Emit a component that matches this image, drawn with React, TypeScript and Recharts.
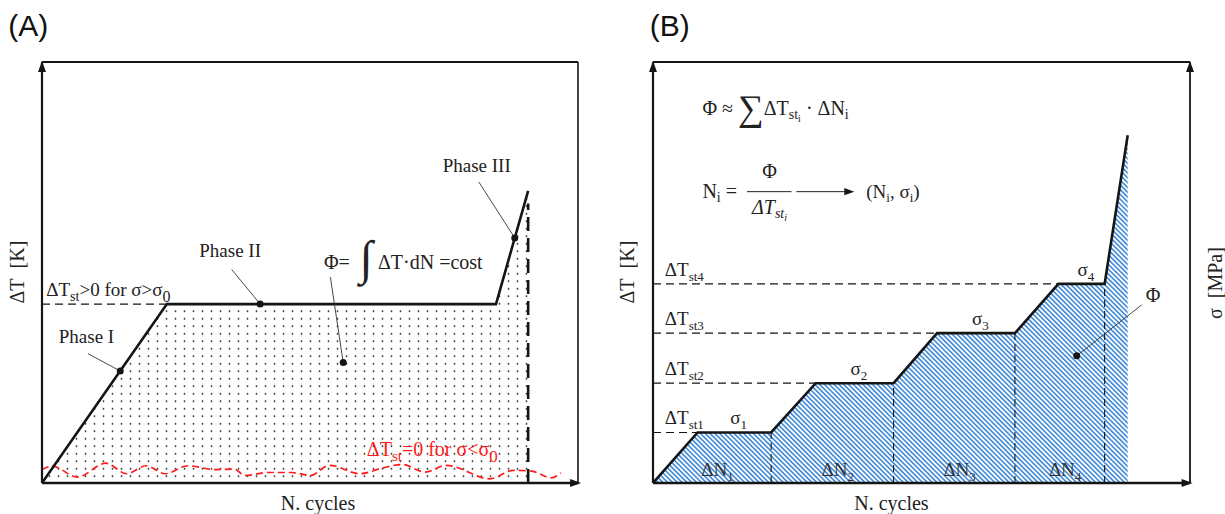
import React from 'react'
import { ComposedChart, Area, Line, XAxis, YAxis, ReferenceLine, ReferenceDot } from 'recharts'

const SERIF = '"Liberation Serif", "Times New Roman", serif'
const SANS = '"Liberation Sans", Arial, sans-serif'
const INK = '#151515'
const NB = '\u00A0'

// ---- Panel A : single test, Phase I / II / III ----
const curveA = [
  { n: 0, t: 0 },
  { n: 23.3, t: 42.5 },
  { n: 84.7, t: 42.5 },
  { n: 90.7, t: 69.4 },
]
const thresholdA = [
  { n: 0, t: 42.5 },
  { n: 23.3, t: 42.5 },
]
const failureA = [
  { n: 90.7, t: 0 },
  { n: 90.7, t: 66.4 },
]
// below the fatigue limit: temperature just wobbles around zero
const noiseA = [
  { n: 0, t: 3.2 }, { n: 1.9, t: 4.0 }, { n: 6.6, t: 1.4 }, { n: 11.9, t: 4.7 },
  { n: 15.8, t: 2.2 }, { n: 19.4, t: 4.1 }, { n: 23.0, t: 2.2 }, { n: 27.2, t: 4.1 },
  { n: 32.2, t: 3.2 }, { n: 35.8, t: 3.3 }, { n: 37.9, t: 1.8 }, { n: 42.2, t: 2.5 },
  { n: 46.5, t: 2.5 }, { n: 50.1, t: 1.8 }, { n: 53.6, t: 4.2 }, { n: 59.3, t: 2.2 },
  { n: 63.6, t: 3.6 }, { n: 67.2, t: 4.4 }, { n: 71.5, t: 2.6 }, { n: 75.4, t: 4.2 },
  { n: 83.6, t: 1.0 }, { n: 87.9, t: 3.0 }, { n: 91.4, t: 2.8 }, { n: 95.0, t: 1.2 },
  { n: 96.8, t: 2.4 },
]

// ---- Panel B : stepwise loading ----
const stepsB = [
  { n: 0, t: 0 },
  { n: 8.3, t: 12 },
  { n: 22, t: 12 },
  { n: 30.3, t: 23.7 },
  { n: 44.8, t: 23.7 },
  { n: 52.9, t: 35.6 },
  { n: 67.4, t: 35.6 },
  { n: 75.5, t: 47.3 },
  { n: 84.1, t: 47.3 },
  { n: 88.4, t: 82.6 },
]
const levelsB = [12, 23.7, 35.6, 47.3]
const plateauStart = [8.3, 30.3, 52.9, 75.5]
const plateauEnd = [22, 44.8, 67.4, 84.1]
const blockStart = [0, 22, 44.8, 67.4]
const stepNames = ['1', '2', '3', '4']

const Sub = ({ children, size = 13, shift = 5 }: { children: React.ReactNode; size?: number; shift?: number }) => (
  <tspan fontSize={size} dy={shift}>{children}</tspan>
)
const Back = ({ children, shift = -5, size = 19 }: { children: React.ReactNode; shift?: number; size?: number }) => (
  <tspan fontSize={size} dy={shift}>{children}</tspan>
)

const note = (key: string, x: number, y: number, content: React.ReactNode, extra: any = {}) => (
  <ReferenceDot
    key={key}
    x={x}
    y={y}
    r={0}
    ifOverflow="visible"
    shape={(p: any) => (
      <text x={p.cx} y={p.cy} dy={6} fontFamily={SERIF} fontSize={19} fill="#222" {...extra}>
        {content}
      </text>
    )}
  />
)

const vnote = (key: string, x: number, y: number, content: React.ReactNode) => (
  <ReferenceDot
    key={key}
    x={x}
    y={y}
    r={0}
    ifOverflow="visible"
    shape={(p: any) => (
      <text
        x={p.cx}
        y={p.cy}
        dy={6}
        fontFamily={SERIF}
        fontSize={20}
        fill="#222"
        textAnchor="middle"
        transform={`rotate(-90 ${p.cx} ${p.cy})`}
      >
        {content}
      </text>
    )}
  />
)

const arrow = (key: string, x: number, y: number, dir: 'up' | 'right', size = 10) => (
  <ReferenceDot
    key={key}
    x={x}
    y={y}
    r={0}
    ifOverflow="visible"
    shape={(p: any) => {
      const { cx, cy } = p
      const w = size * 0.4
      const d =
        dir === 'up'
          ? `M${cx},${cy - 1} L${cx - w},${cy + size} L${cx + w},${cy + size} Z`
          : `M${cx + 1},${cy} L${cx - size},${cy - w} L${cx - size},${cy + w} Z`
      return <path d={d} fill={INK} />
    }}
  />
)

const leader = (key: string, from: [number, number], to: [number, number]) => (
  <ReferenceLine
    key={key}
    segment={[{ x: from[0], y: from[1] }, { x: to[0], y: to[1] }]}
    stroke="#333"
    strokeWidth={0.9}
    ifOverflow="visible"
  />
)

const bullet = (key: string, x: number, y: number) => (
  <ReferenceDot key={key} x={x} y={y} r={3.5} fill={INK} stroke="none" ifOverflow="visible" />
)

function PanelA() {
  return (
    <ComposedChart width={600} height={514} margin={{ top: 62, right: 22, bottom: 31, left: 42 }}>
      <defs>
        <pattern id="dotsA" width={9} height={7.5} patternUnits="userSpaceOnUse">
          <rect width={9} height={7.5} fill="#fff" />
          <circle cx={4.5} cy={3.75} r={0.9} fill="#2a2a2a" />
        </pattern>
      </defs>
      <XAxis type="number" dataKey="n" domain={[0, 100]} hide allowDataOverflow />
      <YAxis type="number" dataKey="t" domain={[0, 100]} hide allowDataOverflow />

      <Area data={curveA} dataKey="t" type="linear" stroke="none" fill="url(#dotsA)" fillOpacity={1} isAnimationActive={false} />
      <Line data={noiseA} dataKey="t" type="monotone" stroke="#ff1a1a" strokeWidth={1.7} strokeDasharray="7 4" dot={false} isAnimationActive={false} />
      <Line data={thresholdA} dataKey="t" type="linear" stroke={INK} strokeWidth={1.4} strokeDasharray="8 5" dot={false} isAnimationActive={false} />
      <Line data={failureA} dataKey="t" type="linear" stroke={INK} strokeWidth={2.6} strokeDasharray="14 7" dot={false} isAnimationActive={false} />
      <Line data={curveA} dataKey="t" type="linear" stroke={INK} strokeWidth={2.6} dot={false} isAnimationActive={false} />

      {/* frame and axes */}
      <ReferenceLine y={100} stroke={INK} strokeWidth={2} ifOverflow="visible" />
      <ReferenceLine x={100} stroke={INK} strokeWidth={1.6} ifOverflow="visible" />
      <ReferenceLine x={0} stroke={INK} strokeWidth={2.2} ifOverflow="visible" />
      <ReferenceLine y={0} stroke={INK} strokeWidth={2.6} ifOverflow="visible" />
      {arrow('ayA', 0, 100, 'up')}
      {arrow('axA', 100.4, 0, 'right')}

      {/* annotations */}
      {leader('l1', [8.6, 30.7], [14.6, 26.6])}
      {leader('l2', [35.4, 50.7], [40.7, 42.5])}
      {leader('l3', [81.5, 71.5], [88.2, 58.2])}
      {leader('l4', [53.8, 48.9], [56.2, 28.6])}
      {bullet('d1', 14.6, 26.6)}
      {bullet('d2', 40.7, 42.5)}
      {bullet('d3', 88.2, 58.2)}
      {bullet('d4', 56.2, 28.6)}

      {note('p1', 8.3, 34.6, 'Phase I', { textAnchor: 'middle' })}
      {note('p2', 35.1, 55.2, 'Phase II', { textAnchor: 'middle' })}
      {note('p3', 81.1, 75.3, 'Phase III', { textAnchor: 'middle' })}
      {note(
        'phi',
        52.6,
        52.2,
        <>
          {`Φ=${NB}${NB}`}
          <tspan fontSize={48} dy={5}>∫</tspan>
          <tspan fontSize={20} dy={-5}>{`${NB}ΔT·dN${NB}=cost`}</tspan>
        </>,
        { fontSize: 20 },
      )}
      {note(
        'thr',
        0.8,
        45.8,
        <>
          ΔT<Sub size={14}>st</Sub>
          <Back>{`>0 for σ>σ`}</Back>
          <Sub size={16} shift={6}>0</Sub>
        </>,
      )}
      {note(
        'zero',
        60.6,
        7.9,
        <>
          ΔT<Sub size={15}>st</Sub>
          <Back size={20}>{`=0 for σ<σ`}</Back>
          <Sub size={17} shift={6}>0</Sub>
        </>,
        { fill: '#ff1a1a', fontSize: 20 },
      )}

      {note('ttl', -6.3, 107.6, '(A)', { fontFamily: SANS, fontSize: 30, fill: '#111' })}
      {note('xl', 51.5, -4.9, 'N. cycles', { textAnchor: 'middle', fontSize: 20 })}
      {vnote('yl', -4.4, 50.1, `ΔT${NB}${NB}[K]`)}
    </ComposedChart>
  )
}

function PanelB() {
  return (
    <ComposedChart width={613} height={514} margin={{ top: 62, right: 35, bottom: 31, left: 41 }}>
      <defs>
        <pattern id="hatchB" width={3.4} height={3.4} patternUnits="userSpaceOnUse" patternTransform="rotate(-45)">
          <rect width={3.4} height={3.4} fill="#fff" />
          <rect width={1.7} height={3.4} fill="#4a90d9" />
        </pattern>
      </defs>
      <XAxis type="number" dataKey="n" domain={[0, 100]} hide allowDataOverflow />
      <YAxis type="number" dataKey="t" domain={[0, 100]} hide allowDataOverflow />

      <Area data={stepsB} dataKey="t" type="linear" stroke="none" fill="url(#hatchB)" fillOpacity={1} isAnimationActive={false} />

      {levelsB.map((lv, i) => (
        <ReferenceLine
          key={`h${i}`}
          segment={[{ x: 0, y: lv }, { x: plateauStart[i], y: lv }]}
          stroke={INK}
          strokeWidth={1.2}
          strokeDasharray="8 5"
        />
      ))}
      {levelsB.map((lv, i) => (
        <ReferenceLine
          key={`v${i}`}
          segment={[{ x: plateauEnd[i], y: 0 }, { x: plateauEnd[i], y: lv }]}
          stroke={INK}
          strokeWidth={1.1}
          strokeDasharray="7 4"
        />
      ))}

      <Line data={stepsB} dataKey="t" type="linear" stroke={INK} strokeWidth={2.6} dot={false} isAnimationActive={false} />

      {/* frame and axes */}
      <ReferenceLine y={100} stroke={INK} strokeWidth={2} ifOverflow="visible" />
      <ReferenceLine x={100} stroke={INK} strokeWidth={1.8} ifOverflow="visible" />
      <ReferenceLine x={0} stroke={INK} strokeWidth={2.2} ifOverflow="visible" />
      <ReferenceLine y={0} stroke={INK} strokeWidth={2.6} ifOverflow="visible" />
      {arrow('ayB', 0, 100, 'up')}
      {arrow('ay2B', 100, 100, 'up')}
      {arrow('axB', 100.3, 0, 'right')}

      {levelsB.map((lv, i) =>
        note(
          `ts${i}`,
          2.2,
          lv + 3.4,
          <>
            ΔT<Sub>{`st${stepNames[i]}`}</Sub>
          </>,
        ),
      )}
      {levelsB.map((lv, i) =>
        note(
          `sg${i}`,
          (plateauStart[i] + plateauEnd[i]) / 2 + 0.8,
          lv + 3.4,
          <>
            σ<Sub>{stepNames[i]}</Sub>
          </>,
          { textAnchor: 'middle' },
        ),
      )}
      {blockStart.map((b, i) =>
        note(
          `dn${i}`,
          (b + plateauEnd[i]) / 2 + 1,
          3.0,
          <>
            ΔN<Sub>{stepNames[i]}</Sub>
          </>,
          { textAnchor: 'middle', fill: '#333' },
        ),
      )}

      {leader('lphi', [91.0, 42.3], [78.9, 30.2])}
      {bullet('dphi', 78.9, 30.2)}
      {note('phiB', 93.1, 44.4, 'Φ', { textAnchor: 'middle', fontSize: 20 })}

      {/* formulas */}
      {note(
        'f1',
        9.2,
        88.9,
        <>
          {`Φ${NB}≈${NB}`}
          <tspan fontSize={36} dy={5}>∑</tspan>
          <tspan fontSize={20} dy={-5}>ΔT</tspan>
          <Sub size={14} shift={4}>st</Sub>
          <tspan fontSize={10} dy={3}>i</tspan>
          <tspan fontSize={20} dy={-7}>{`${NB}·${NB}ΔN`}</tspan>
          <Sub size={14} shift={4}>i</Sub>
        </>,
        { fontSize: 20 },
      )}
      {note(
        'f2',
        9.2,
        69.2,
        <>
          N<Sub size={14} shift={4}>i</Sub>
          <tspan fontSize={20} dy={-4}>{`${NB}=`}</tspan>
        </>,
        { fontSize: 20 },
      )}
      {note('f2n', 21.7, 73.8, 'Φ', { textAnchor: 'middle', fontSize: 20 })}
      <ReferenceLine segment={[{ x: 17.5, y: 69.2 }, { x: 25.8, y: 69.2 }]} stroke="#222" strokeWidth={1} />
      {note(
        'f2d',
        21.7,
        65.4,
        <>
          ΔT<Sub size={14} shift={4}>st</Sub>
          <tspan fontSize={10} dy={3}>i</tspan>
        </>,
        { textAnchor: 'middle', fontStyle: 'italic', fontSize: 20 },
      )}
      <ReferenceLine segment={[{ x: 26.7, y: 69.2 }, { x: 36, y: 69.2 }]} stroke="#222" strokeWidth={1} />
      {arrow('f2a', 37.3, 69.2, 'right', 9)}
      {note(
        'f2r',
        39.7,
        69.2,
        <>
          (N<Sub size={13} shift={4}>i</Sub>
          <tspan fontSize={19} dy={-4}>{`,${NB}σ`}</tspan>
          <Sub size={13} shift={4}>i</Sub>
          <tspan fontSize={19} dy={-4}>)</tspan>
        </>,
      )}

      {note('ttl', -0.6, 107.6, '(B)', { fontFamily: SANS, fontSize: 30, fill: '#111' })}
      {note('xl', 44.4, -4.9, 'N. cycles', { textAnchor: 'middle', fontSize: 20 })}
      {vnote('yl', -4.6, 50.1, `ΔT${NB}${NB}[K]`)}
      {vnote('yr', 104.8, 47.5, `σ${NB}${NB}[MPa]`)}
    </ComposedChart>
  )
}

export default function App() {
  return (
    <div style={{ position: 'absolute', left: 0, top: 0, width: 1225, height: 514, background: '#fff' }}>
      <div style={{ position: 'absolute', left: 0, top: 0 }}>
        <PanelA />
      </div>
      <div style={{ position: 'absolute', left: 612, top: 0 }}>
        <PanelB />
      </div>
    </div>
  )
}
